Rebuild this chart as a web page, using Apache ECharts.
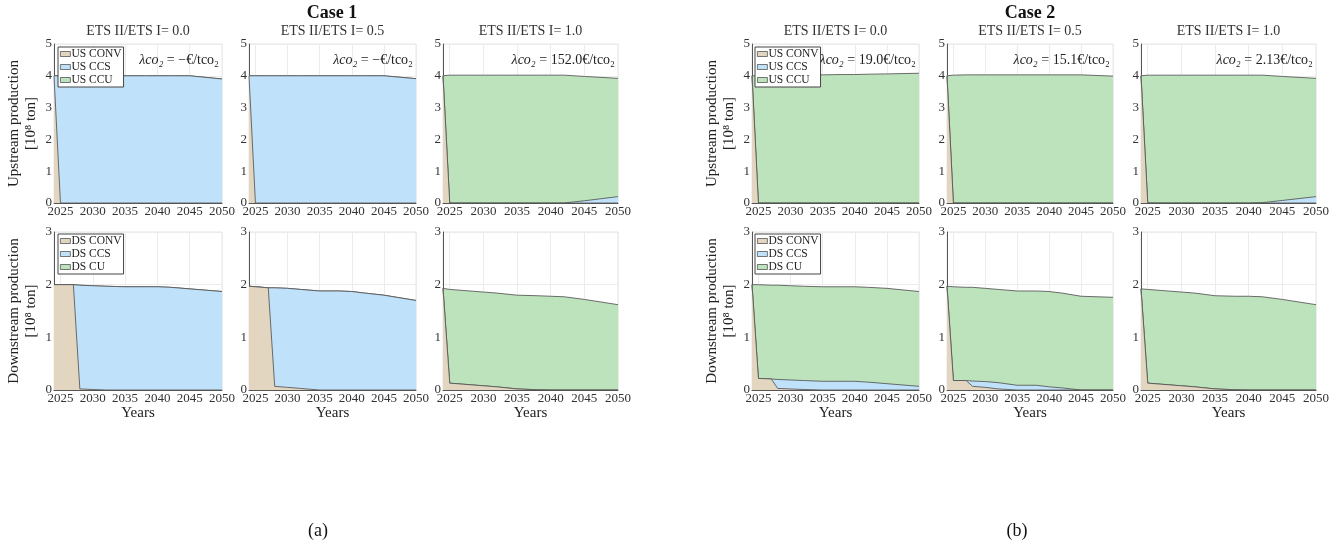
<!DOCTYPE html>
<html>
<head>
<meta charset="utf-8">
<script src="https://cdn.jsdelivr.net/npm/echarts@6/dist/echarts.min.js"></script>
<style>
  html,body{margin:0;padding:0;background:#fff}
  #chart{width:1336px;height:546px}
</style>
</head>
<body>
<div id="chart"></div>
<script>
// years shared by every panel
const years = [2024, 2025, 2027, 2028, 2030, 2032, 2035, 2038, 2040, 2042, 2045, 2050]
// panel order: case1 (0.0, 0.5, 1.0), case2 (0.0, 0.5, 1.0)
const etsRatio = ['0.0', '0.5', '1.0', '0.0', '0.5', '1.0']
const lambdaCo2 = ['−', '−', '152.0', '19.0', '15.1', '2.13']
const usNames = ['US CONV', 'US CCS', 'US CCU']
const dsNames = ['DS CONV', 'DS CCS', 'DS CU']
const yTicksUp = [0, 1, 2, 3, 4, 5]
const yTicksDown = [0, 1, 2, 3]

// upstream production [1e8 ton]
const usConv = [
  [4, 0, 0, 0, 0, 0, 0, 0, 0, 0, 0, 0],
  [4, 0, 0, 0, 0, 0, 0, 0, 0, 0, 0, 0],
  [4, 0, 0, 0, 0, 0, 0, 0, 0, 0, 0, 0],
  [4, 0, 0, 0, 0, 0, 0, 0, 0, 0, 0, 0],
  [4, 0, 0, 0, 0, 0, 0, 0, 0, 0, 0, 0],
  [4, 0, 0, 0, 0, 0, 0, 0, 0, 0, 0, 0]
]
const usCcs = [
  [0, 4, 4, 4, 4, 4, 4, 4, 4, 4, 4, 3.9],
  [0, 4, 4, 4, 4, 4, 4, 4, 4, 4, 4, 3.91],
  [0, 0, 0, 0, 0, 0, 0, 0, 0, 0, 0.07, 0.2],
  [0, 0, 0, 0, 0, 0, 0, 0, 0, 0, 0, 0],
  [0, 0, 0, 0, 0, 0, 0, 0, 0, 0, 0, 0],
  [0, 0, 0, 0, 0, 0, 0, 0, 0, 0.01, 0.08, 0.2]
]
const usCcu = [
  [0, 0, 0, 0, 0, 0, 0, 0, 0, 0, 0, 0],
  [0, 0, 0, 0, 0, 0, 0, 0, 0, 0, 0, 0],
  [0, 4.02, 4.02, 4.02, 4.02, 4.02, 4.02, 4.02, 4.02, 4.02, 3.91, 3.72],
  [0, 4.0, 4.0, 4.0, 4.01, 4.02, 4.03, 4.04, 4.04, 4.05, 4.06, 4.08],
  [0, 4.02, 4.03, 4.03, 4.03, 4.03, 4.03, 4.03, 4.03, 4.03, 4.03, 3.99],
  [0, 4.02, 4.02, 4.02, 4.02, 4.02, 4.02, 4.02, 4.02, 4.01, 3.90, 3.72]
]
// downstream production [1e8 ton]
const dsConv = [
  [2.0, 2.0, 2.0, 0.02, 0.01, 0, 0, 0, 0, 0, 0, 0],
  [1.97, 1.96, 1.94, 0.07, 0.05, 0.03, 0, 0, 0, 0, 0, 0],
  [1.93, 0.13, 0.11, 0.10, 0.08, 0.06, 0.02, 0.005, 0, 0, 0, 0],
  [2.0, 0.22, 0.21, 0.03, 0.02, 0.01, 0, 0, 0, 0, 0, 0],
  [1.97, 0.18, 0.18, 0.07, 0.05, 0.02, 0, 0, 0, 0, 0, 0],
  [1.92, 0.13, 0.11, 0.10, 0.08, 0.06, 0.02, 0.005, 0, 0, 0, 0]
]
const dsCcs = [
  [0, 0, 0, 1.97, 1.97, 1.97, 1.96, 1.96, 1.96, 1.95, 1.92, 1.87],
  [0, 0, 0, 1.87, 1.88, 1.88, 1.88, 1.88, 1.87, 1.84, 1.80, 1.70],
  [0, 0, 0, 0, 0, 0, 0, 0, 0, 0, 0, 0],
  [0, 0, 0, 0.17, 0.17, 0.17, 0.165, 0.165, 0.165, 0.15, 0.12, 0.07],
  [0, 0, 0, 0.1, 0.11, 0.12, 0.09, 0.09, 0.06, 0.04, 0, 0],
  [0, 0, 0, 0, 0, 0, 0, 0, 0, 0, 0, 0]
]
const dsCu = [
  [0, 0, 0, 0, 0, 0, 0, 0, 0, 0, 0, 0],
  [0, 0, 0, 0, 0, 0, 0, 0, 0, 0, 0, 0],
  [0, 1.78, 1.78, 1.78, 1.78, 1.78, 1.78, 1.785, 1.78, 1.77, 1.72, 1.62],
  [0, 1.78, 1.78, 1.79, 1.79, 1.79, 1.795, 1.795, 1.795, 1.8, 1.81, 1.8],
  [0, 1.78, 1.77, 1.78, 1.77, 1.77, 1.79, 1.79, 1.81, 1.80, 1.78, 1.76],
  [0, 1.78, 1.78, 1.78, 1.78, 1.78, 1.77, 1.775, 1.78, 1.77, 1.72, 1.62]
]

const FONT = '"Liberation Serif", "DejaVu Serif", serif'
const fills = ['#e3d6c1', '#bfe2fa', '#bde3bc']
const edge = '#555555'
// panel boxes (px)
const colLeft = [54, 249, 443, 752, 947, 1141]
const colWidth = [168, 167, 175, 167, 166, 175]
const rowTop = [44, 232]
const rowHeight = [159, 158]

const grids = [], xAxes = [], yAxes = [], series = [], graphics = []

for (let r = 0; r < 2; r++) {
  for (let p = 0; p < 6; p++) {
    const g = grids.length
    grids.push({
      left: colLeft[p], top: rowTop[r], width: colWidth[p], height: rowHeight[r],
      show: true, borderColor: '#e6e6e6', borderWidth: 1, containLabel: false
    })
    xAxes.push({
      type: 'value', gridIndex: g, min: 2024, max: 2050,
      minInterval: 5, maxInterval: 5,
      name: r === 1 ? 'Years' : '', nameLocation: 'middle', nameGap: 16,
      nameTextStyle: {fontFamily: FONT, fontSize: 15, color: '#222'},
      axisLine: {show: true, lineStyle: {color: edge, width: 1}},
      axisTick: {show: false},
      axisLabel: {
        fontFamily: FONT, fontSize: 13, color: '#333', margin: 2,
        showMinLabel: false, showMaxLabel: true,
        formatter: v => String(v)
      },
      splitLine: {show: true, lineStyle: {color: '#ececec', width: 1}}
    })
    const ticks = r === 0 ? yTicksUp : yTicksDown
    const first = (p === 0 || p === 3)
    yAxes.push({
      type: 'value', gridIndex: g, min: ticks[0], max: ticks[ticks.length - 1], interval: 1,
      name: first ? (r === 0 ? 'Upstream production\n[10⁸ ton]' : 'Downstream production\n[10⁸ ton]') : '',
      nameLocation: 'middle', nameRotate: 90, nameGap: 14,
      nameTextStyle: {fontFamily: FONT, fontSize: 15, color: '#222', lineHeight: 17},
      axisLine: {show: true, lineStyle: {color: edge, width: 1}, onZero: false},
      axisTick: {show: false},
      axisLabel: {fontFamily: FONT, fontSize: 13, color: '#333', margin: 2},
      splitLine: {show: true, lineStyle: {color: '#ececec', width: 1}}
    })
    const sets = r === 0 ? [usConv, usCcs, usCcu] : [dsConv, dsCcs, dsCu]
    const names = r === 0 ? usNames : dsNames
    // cumulative sums: layer k = sum of sets[0..k]; drawn from the top layer down
    const cum = sets.map((_, k) => years.map((y, i) => {
      let s = 0
      for (let j = 0; j <= k; j++) s += sets[j][p][i]
      return +s.toFixed(4)
    }))
    for (let k = 2; k >= 0; k--) {
      series.push({
        type: 'line', name: names[k], xAxisIndex: g, yAxisIndex: g,
        showSymbol: false, symbol: 'none', z: 2 + (2 - k),
        data: years.map((y, i) => [y, cum[k][i]]),
        itemStyle: {color: fills[k]},
        lineStyle: {color: edge, width: 1, opacity: 0.85},
        areaStyle: {color: fills[k], opacity: 1, origin: 'start'}
      })
    }
  }
}

// subtitles + lambda label (top row only)
for (let p = 0; p < 6; p++) {
  graphics.push({
    type: 'text', x: colLeft[p] + colWidth[p] / 2, y: 31,
    style: {text: 'ETS II/ETS I= ' + etsRatio[p], font: '14px ' + FONT, fill: '#333',
      textAlign: 'center', textVerticalAlign: 'middle'}
  })
  graphics.push({
    type: 'text', x: colLeft[p] + colWidth[p] - 3, y: 60, z: 10,
    style: {
      text: '{a|λco₂}{b| = ' + lambdaCo2[p] + '€/tco₂}',
      rich: {
        a: {fontFamily: FONT, fontSize: 14, fontStyle: 'italic', fill: '#222'},
        b: {fontFamily: FONT, fontSize: 14, fill: '#222'}
      },
      textAlign: 'right', textVerticalAlign: 'middle'
    }
  })
}
graphics.push({type: 'text', x: 332, y: 13, style: {text: 'Case 1', font: 'bold 18px ' + FONT, fill: '#111', textAlign: 'center', textVerticalAlign: 'middle'}})
graphics.push({type: 'text', x: 1030, y: 13, style: {text: 'Case 2', font: 'bold 18px ' + FONT, fill: '#111', textAlign: 'center', textVerticalAlign: 'middle'}})
graphics.push({type: 'text', x: 318, y: 531, style: {text: '(a)', font: '18px ' + FONT, fill: '#111', textAlign: 'center', textVerticalAlign: 'middle'}})
graphics.push({type: 'text', x: 1017, y: 531, style: {text: '(b)', font: '18px ' + FONT, fill: '#111', textAlign: 'center', textVerticalAlign: 'middle'}})

// legends in the first panel of each case
function makeLegend(names, left, top) {
  return {
    data: names, left: left, top: top, orient: 'vertical',
    icon: 'rect', itemWidth: 10, itemHeight: 5, itemGap: 1,
    padding: [1, 2, 1, 2], borderColor: '#444', borderWidth: 1, backgroundColor: '#fff',
    selectedMode: false, z: 20,
    itemStyle: {borderColor: edge, borderWidth: 0.8},
    textStyle: {fontFamily: FONT, fontSize: 11.5, color: '#222', lineHeight: 9.5, padding: [0, 0, 0, -4]}
  }
}

const option = {
  animation: false,
  backgroundColor: '#fff',
  grid: grids,
  xAxis: xAxes,
  yAxis: yAxes,
  legend: [
    makeLegend(usNames, 58, 47),
    makeLegend(dsNames, 58, 234),
    makeLegend(usNames, 755, 47),
    makeLegend(dsNames, 755, 234)
  ],
  graphic: graphics,
  series: series
}

const chartObj = echarts.init(document.getElementById('chart'))
chartObj.setOption(option)
</script>
</body>
</html>
